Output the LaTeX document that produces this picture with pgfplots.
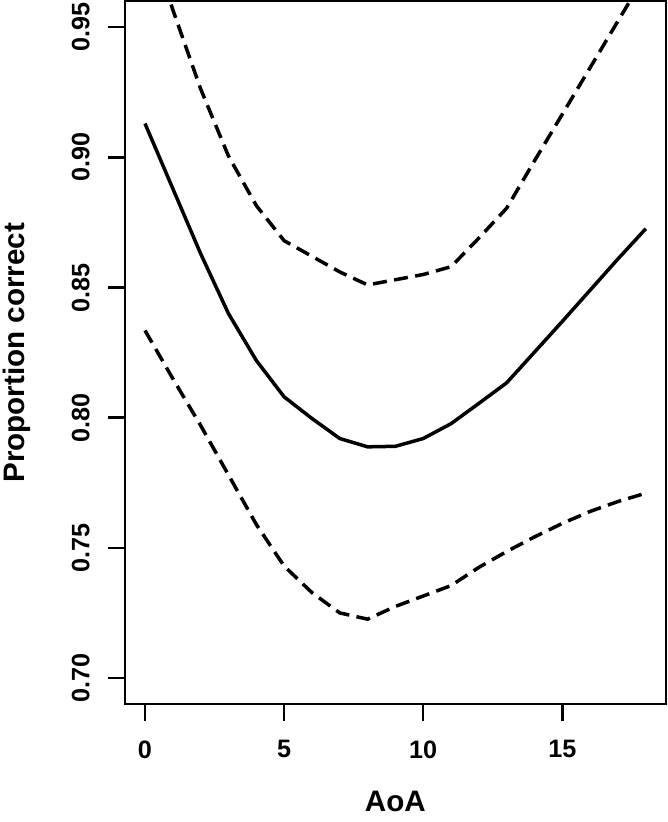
\documentclass[border=0pt]{standalone}
\usepackage{fontspec}
\setmainfont{Liberation Sans}
\usepackage{pgfplots}
\pgfplotsset{compat=1.18}

\begin{document}
\begin{tikzpicture}
\begin{axis}[
    scale only axis,
    width=270.5pt, height=351.5pt,
    xmin=-0.72, xmax=18.72,
    ymin=0.69, ymax=0.96,
    axis line style={line width=1.25pt},
    tick pos=left,
    tick align=outside,
    major tick length=8.5pt,
    every tick/.style={black, line width=1.25pt},
    xtick={0,5,10,15},
    ytick={0.70,0.75,0.80,0.85,0.90,0.95},
    /pgf/number format/assume math mode=true,
    yticklabel style={/pgf/number format/fixed, /pgf/number format/fixed zerofill,
        /pgf/number format/precision=2, rotate=90, anchor=south},
    ticklabel style={font=\fontsize{12.6}{14}\selectfont\bfseries, inner sep=0pt},
    xticklabel style={anchor=north},
    xticklabel shift=9.5pt,
    yticklabel shift=9pt,
    xlabel={AoA},
    ylabel={Proportion correct},
    label style={font=\fontsize{14.8}{17}\selectfont\bfseries},
    xlabel style={at={(axis description cs:0.5,0)}, anchor=center, yshift=-48.6pt},
    ylabel style={at={(axis description cs:0,0.5)}, anchor=base, yshift=50pt},
    clip=true,
]
% fitted proportion
\addplot[black, line width=1.75pt, line join=round] coordinates {
    (0,0.913) (1,0.888) (2,0.863) (3,0.840) (4,0.822) (5,0.808)
    (6,0.7997) (7,0.792) (8,0.7888) (9,0.789) (10,0.792) (11,0.7977)
    (12,0.8055) (13,0.8134) (14,0.8252) (15,0.837) (16,0.849) (17,0.861) (18,0.8726)
};
% upper band
\addplot[black, line width=1.75pt, dash pattern=on 7pt off 3.7pt] coordinates {
    (0,0.990) (1,0.9567) (2,0.9263) (3,0.9005) (4,0.8815) (5,0.868)
    (6,0.862) (7,0.856) (8,0.851) (9,0.853) (10,0.855) (11,0.858)
    (12,0.869) (13,0.8805) (14,0.8987) (15,0.9166) (16,0.9345) (17,0.9524) (18,0.9703)
};
% lower band
\addplot[black, line width=1.75pt, dash pattern=on 7pt off 3.7pt] coordinates {
    (0,0.8335) (1,0.815) (2,0.797) (3,0.778) (4,0.759) (5,0.743)
    (6,0.7328) (7,0.725) (8,0.7226) (9,0.7275) (10,0.7315) (11,0.7355)
    (12,0.7425) (13,0.7486) (14,0.7542) (15,0.7594) (16,0.764) (17,0.7678) (18,0.771)
};
\end{axis}
\pgfresetboundingbox
\path[use as bounding box] ([xshift=-62.5pt,yshift=-59pt]current axis.south west)
    rectangle ([xshift=1pt,yshift=0.6pt]current axis.north east);
\end{tikzpicture}
\end{document}
